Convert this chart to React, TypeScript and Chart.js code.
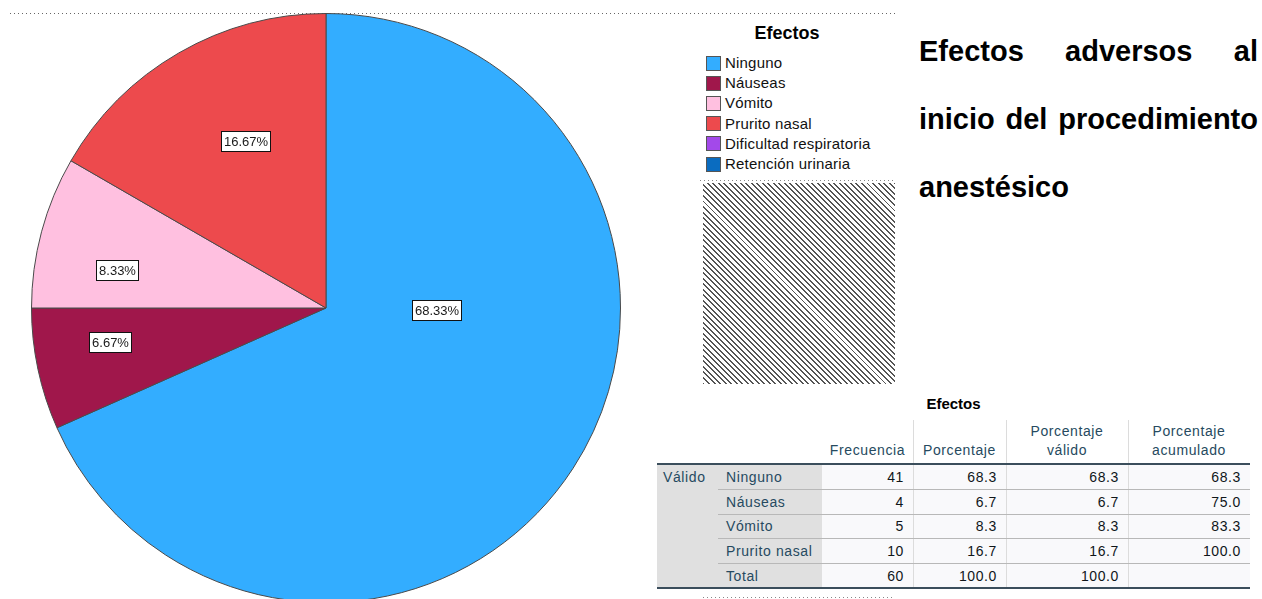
import React, { useEffect, useRef } from "react";
import { Chart, registerables } from "chart.js";

Chart.register(...registerables);

// ---------- data ----------
const categories = [
  "Ninguno",
  "Náuseas",
  "Vómito",
  "Prurito nasal",
  "Dificultad respiratoria",
  "Retención urinaria",
];
const frequencies = [41, 4, 5, 10, 0, 0];
const sliceColors = ["#33adff", "#a0174b", "#ffc0e0", "#ed4a4d", "#a349ea", "#0a6cc0"];

// label placement inside each slice (fraction of the sweep, fraction of the radius)
const labelAngleFractions = [0.37, 0.63, 0.34, 0.57, 0.5, 0.5];
const labelRadiusFractions = [0.374, 0.741, 0.721, 0.631, 0.5, 0.5];

const tableTitle = "Efectos";
const tableGroup = "Válido";
const tableRows = ["Ninguno", "Náuseas", "Vómito", "Prurito nasal", "Total"];
const tableHeaders = [["Frecuencia"], ["Porcentaje"], ["Porcentaje", "válido"], ["Porcentaje", "acumulado"]];
const tableFrecuencia = ["41", "4", "5", "10", "60"];
const tablePorcentaje = ["68.3", "6.7", "8.3", "16.7", "100.0"];
const tableValido = ["68.3", "6.7", "8.3", "16.7", "100.0"];
const tableAcumulado = ["68.3", "75.0", "83.3", "100.0", ""];

const titleText = "Efectos adversos al inicio del procedimiento anestésico";
const legendTitle = "Efectos";

// ---------- layout constants ----------
const colEdges = [822, 913, 1006, 1128, 1250];
const rowTops = [464, 489, 514, 538, 563, 588];

const labelPlugin = {
  id: "sliceLabels",
  afterDatasetsDraw(chart: any) {
    const ctx = chart.ctx as CanvasRenderingContext2D;
    const meta = chart.getDatasetMeta(0);
    const data = chart.data.datasets[0].data as number[];
    const total = data.reduce((a, b) => a + b, 0);
    ctx.save();
    ctx.font = "13px 'Liberation Sans', Arial, sans-serif";
    ctx.textAlign = "center";
    ctx.textBaseline = "middle";
    meta.data.forEach((el: any, i: number) => {
      const v = data[i];
      if (!v) return;
      const p = el.getProps(["x", "y", "startAngle", "endAngle", "outerRadius"], true);
      const a = p.startAngle + labelAngleFractions[i] * (p.endAngle - p.startAngle);
      const r = p.outerRadius * labelRadiusFractions[i];
      const cx = p.x + Math.cos(a) * r;
      const cy = p.y + Math.sin(a) * r;
      const text = ((v / total) * 100).toFixed(2) + "%";
      const w = Math.round(ctx.measureText(text).width + 5);
      const h = 20;
      const bx = Math.round(cx - w / 2) + 0.5;
      const by = Math.round(cy - h / 2) + 0.5;
      ctx.fillStyle = "#ffffff";
      ctx.fillRect(bx, by, w, h);
      ctx.strokeStyle = "#111111";
      ctx.lineWidth = 1;
      ctx.strokeRect(bx, by, w, h);
      ctx.fillStyle = "#1a1a1a";
      ctx.fillText(text, bx + w / 2, by + h / 2 + 0.5);
    });
    ctx.restore();
  },
};

function dotted(left: number, top: number, width: number, color = "#666"): React.CSSProperties {
  return {
    position: "absolute",
    left,
    top,
    width,
    height: 1,
    background: `repeating-linear-gradient(to right, ${color} 0 1px, transparent 1px 4px)`,
  };
}

export default function App() {
  const canvasRef = useRef<HTMLCanvasElement | null>(null);

  useEffect(() => {
    if (!canvasRef.current) return;
    const chart = new Chart(canvasRef.current, {
      type: "pie",
      data: {
        labels: categories,
        datasets: [
          {
            data: frequencies,
            backgroundColor: sliceColors,
            borderColor: "#4a4a4a",
            borderWidth: frequencies.map((v) => (v > 0 ? 1 : 0)),
            hoverOffset: 0,
          },
        ],
      },
      options: {
        responsive: false,
        animation: false,
        events: [],
        layout: { padding: 0 },
        plugins: {
          legend: { display: false },
          tooltip: { enabled: false },
        },
      },
      plugins: [labelPlugin],
    });
    return () => chart.destroy();
  }, []);

  const font = "'Liberation Sans', Arial, sans-serif";
  const slate = "#264a60";
  const numCols = [tableFrecuencia, tablePorcentaje, tableValido, tableAcumulado];

  return (
    <div
      style={{
        position: "fixed",
        left: 0,
        top: 0,
        width: 1262,
        height: 599,
        overflow: "hidden",
        background: "#ffffff",
        fontFamily: font,
      }}
    >
      {/* top dotted line */}
      <div style={dotted(10, 13, 885)} />

      {/* pie */}
      <canvas
        ref={canvasRef}
        width={590}
        height={590}
        style={{ position: "absolute", left: 31, top: 13, width: 590, height: 590 }}
      />

      {/* legend */}
      <div
        style={{
          position: "absolute",
          left: 737,
          top: 22,
          width: 100,
          textAlign: "center",
          fontWeight: "bold",
          fontSize: 18,
          lineHeight: "22px",
          color: "#000",
        }}
      >
        {legendTitle}
      </div>
      {categories.map((c, i) => (
        <div
          key={c}
          style={{ position: "absolute", left: 706, top: 55 + i * 20.2, height: 16, display: "flex", alignItems: "center" }}
        >
          <div
            style={{
              width: 13,
              height: 13,
              background: sliceColors[i],
              border: "1px solid #555",
              boxSizing: "content-box",
            }}
          />
          <span style={{ marginLeft: 4, fontSize: 15, letterSpacing: 0.2, color: "#111", lineHeight: "16px" }}>{c}</span>
        </div>
      ))}
      <div style={dotted(700, 180, 193, "#888")} />

      {/* hatched area */}
      <div
        style={{
          position: "absolute",
          left: 703,
          top: 183,
          width: 192,
          height: 201,
          background: "repeating-linear-gradient(45deg, #555555 0 1.4px, #ffffff 1.4px 3.9px)",
        }}
      />

      {/* title text */}
      <div
        style={{
          position: "absolute",
          left: 919,
          top: 17,
          width: 339,
          fontFamily: font,
          fontWeight: "bold",
          fontSize: 29,
          lineHeight: "68px",
          textAlign: "justify",
          color: "#000",
        }}
      >
        {titleText}
      </div>

      {/* table */}
      <div
        style={{
          position: "absolute",
          left: 657,
          top: 395,
          width: 593,
          textAlign: "center",
          fontWeight: "bold",
          fontSize: 15,
          lineHeight: "18px",
          color: "#000",
        }}
      >
        {tableTitle}
      </div>
      {/* header cells */}
      {tableHeaders.map((h, j) => (
        <div
          key={"h" + j}
          style={{
            position: "absolute",
            left: colEdges[j],
            top: 420,
            width: colEdges[j + 1] - colEdges[j],
            height: 44,
            display: "flex",
            flexDirection: "column",
            justifyContent: "flex-end",
            alignItems: "center",
            paddingBottom: 4,
            boxSizing: "border-box",
            fontSize: 14,
            letterSpacing: 0.6,
            lineHeight: "19px",
            color: slate,
          }}
        >
          {h.map((t) => (
            <div key={t}>{t}</div>
          ))}
        </div>
      ))}
      {/* grey label area */}
      <div style={{ position: "absolute", left: 657, top: 464, width: 165, height: 124, background: "#e0e0e0" }} />
      {/* data area background */}
      <div style={{ position: "absolute", left: 822, top: 464, width: 428, height: 124, background: "#f9f9fb" }} />
      {/* vertical lines */}
      {colEdges.slice(1, 4).map((x) => (
        <div key={"v" + x} style={{ position: "absolute", left: x, top: 420, width: 1, height: 168, background: "#dcdcdc" }} />
      ))}
      {/* row separators */}
      {rowTops.slice(1, 5).map((y) => (
        <div key={"r" + y} style={{ position: "absolute", left: 718, top: y, width: 532, height: 1, background: "#b8b8b8" }} />
      ))}
      {/* heavy lines */}
      <div style={{ position: "absolute", left: 657, top: 463, width: 593, height: 2, background: "#3b4e5c" }} />
      <div style={{ position: "absolute", left: 657, top: 587, width: 593, height: 2, background: "#3b4e5c" }} />
      {/* group label */}
      <div
        style={{
          position: "absolute",
          left: 663,
          top: rowTops[0],
          height: rowTops[1] - rowTops[0],
          display: "flex",
          alignItems: "center",
          fontSize: 14,
          letterSpacing: 0.6,
          color: slate,
        }}
      >
        {tableGroup}
      </div>
      {/* row labels and values */}
      {tableRows.map((r, i) => (
        <React.Fragment key={r}>
          <div
            style={{
              position: "absolute",
              left: 726,
              top: rowTops[i],
              height: rowTops[i + 1] - rowTops[i],
              display: "flex",
              alignItems: "center",
              fontSize: 14,
              letterSpacing: 0.6,
              color: slate,
            }}
          >
            {r}
          </div>
          {numCols.map((col, j) => (
            <div
              key={j}
              style={{
                position: "absolute",
                left: colEdges[j],
                top: rowTops[i],
                width: colEdges[j + 1] - colEdges[j] - 9,
                height: rowTops[i + 1] - rowTops[i],
                display: "flex",
                alignItems: "center",
                justifyContent: "flex-end",
                fontSize: 14,
                letterSpacing: 0.6,
                color: "#10161a",
              }}
            >
              {col[i]}
            </div>
          ))}
        </React.Fragment>
      ))}
      <div style={dotted(703, 597, 190, "#888")} />
    </div>
  );
}
